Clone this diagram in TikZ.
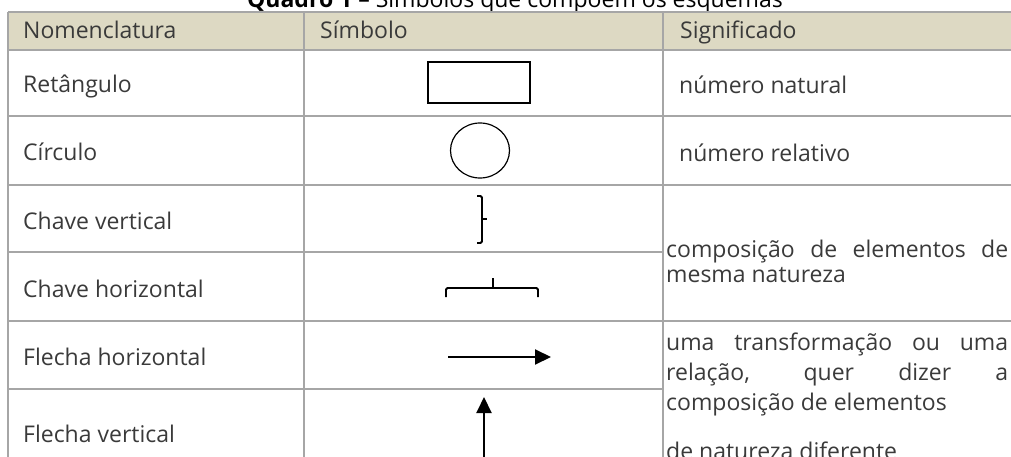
\documentclass[tikz,border=0pt]{standalone}
\usepackage{fontspec}
\setmainfont{Open Sans}
\usetikzlibrary{shapes.geometric,arrows.meta,positioning}
\definecolor{gridgray}{HTML}{A6A6A6}
\definecolor{headtan}{HTML}{DDD9C3}
\definecolor{txtgray}{HTML}{3A3A3A}

\begin{document}
\begin{tikzpicture}[
	%	style def
    x=1pt, y=-1pt,
    grid line/.style={gridgray, line width=1.3pt},
    symbol line/.style={black, line width=1.2pt},
    brace line/.style={black, line width=1.8pt, rounded corners=1.5pt},
    flow arrow/.style={black, line width=2pt, -{Triangle[length=16pt,width=15pt]}},
    cell text/.style={anchor=base west, inner sep=0pt, text=txtgray, font=\fontsize{23}{27}\selectfont}
    ]
    \useasboundingbox (0,0) rectangle (1011,457);

    % title (cut at the top of the page)
    \node[cell text, anchor=base, text=black] (title) at (515,8) {\textbf{Quadro 1} – Símbolos que compõem os esquemas};

    % header band
    \fill[headtan] (8,12) rectangle (1030,50);

    % table lines
    \draw[grid line] (8,12) -- (1030,12);
    \draw[grid line] (8,50) -- (1030,50);
    \draw[grid line] (8,116) -- (1030,116);
    \draw[grid line] (8,185) -- (1030,185);
    \draw[grid line] (8,321) -- (1030,321);
    \draw[grid line] (8,252) -- (663,252);
    \draw[grid line] (8,389) -- (663,389);
    \draw[grid line] (8,12) -- (8,480);
    \draw[grid line] (304,12) -- (304,480);
    \draw[grid line] (663,12) -- (663,480);

    % header texts
    \node[cell text] (nomHead) at (23,39) {Nomenclatura};
    \node[cell text] (simHead) at (320,39) {Símbolo};
    \node[cell text] (sigHead) at (680,39) {Significado};

    % first column
    \node[cell text] (nomRet) at (23,93) {Retângulo};
    \node[cell text] (nomCirc) at (23,161) {Círculo};
    \node[cell text] (nomChaveV) at (23,229) {Chave vertical};
    \node[cell text] (nomChaveH) at (23,297) {Chave horizontal};
    \node[cell text] (nomFlechaH) at (23,365) {Flecha horizontal};
    \node[cell text] (nomFlechaV) at (23,442) {Flecha vertical};

    % symbols
    \node[draw, symbol line, minimum width=102pt, minimum height=41pt, inner sep=0pt] (retangulo) at (479,82.5) {};
    \node[draw, symbol line, ellipse, minimum width=59pt, minimum height=55pt, inner sep=0pt] (circulo) at (480,150.5) {};
    \draw[brace line] (477,196) -- (482,196) -- (482,243) -- (477,243);
    \draw[brace line] (482,219) -- (487,219);
    \draw[brace line] (446,297) -- (446,288) -- (538,288) -- (538,297);
    \draw[brace line] (493,288) -- (493,278);
    \coordinate (fhStart) at (448,357);
    \coordinate (fhEnd) at (551,357);
    \draw[flow arrow] (fhStart) -- (fhEnd);
    \coordinate (fvStart) at (484,470);
    \coordinate (fvEnd) at (484,397);
    \draw[flow arrow] (fvStart) -- (fvEnd);

    % third column
    \node[cell text] (sigNat) at (679,94) {número natural};
    \node[cell text] (sigRel) at (679,162) {número relativo};
    \node[cell text] (sigMesmaA) at (666,257) {\makebox[342pt][s]{composição de elementos de}};
    \node[cell text] (sigMesmaB) at (666,282) {mesma natureza};
    \node[cell text] (sigDifA) at (666,350) {\makebox[342pt][s]{uma transformação ou uma}};
    \node[cell text] (sigDifB) at (666,380) {\makebox[342pt][s]{relação, quer dizer a}};
    \node[cell text] (sigDifC) at (666,410) {composição de elementos};
    \node[cell text] (sigDifD) at (666,459) {de natureza diferente};

\end{tikzpicture}
\end{document}
